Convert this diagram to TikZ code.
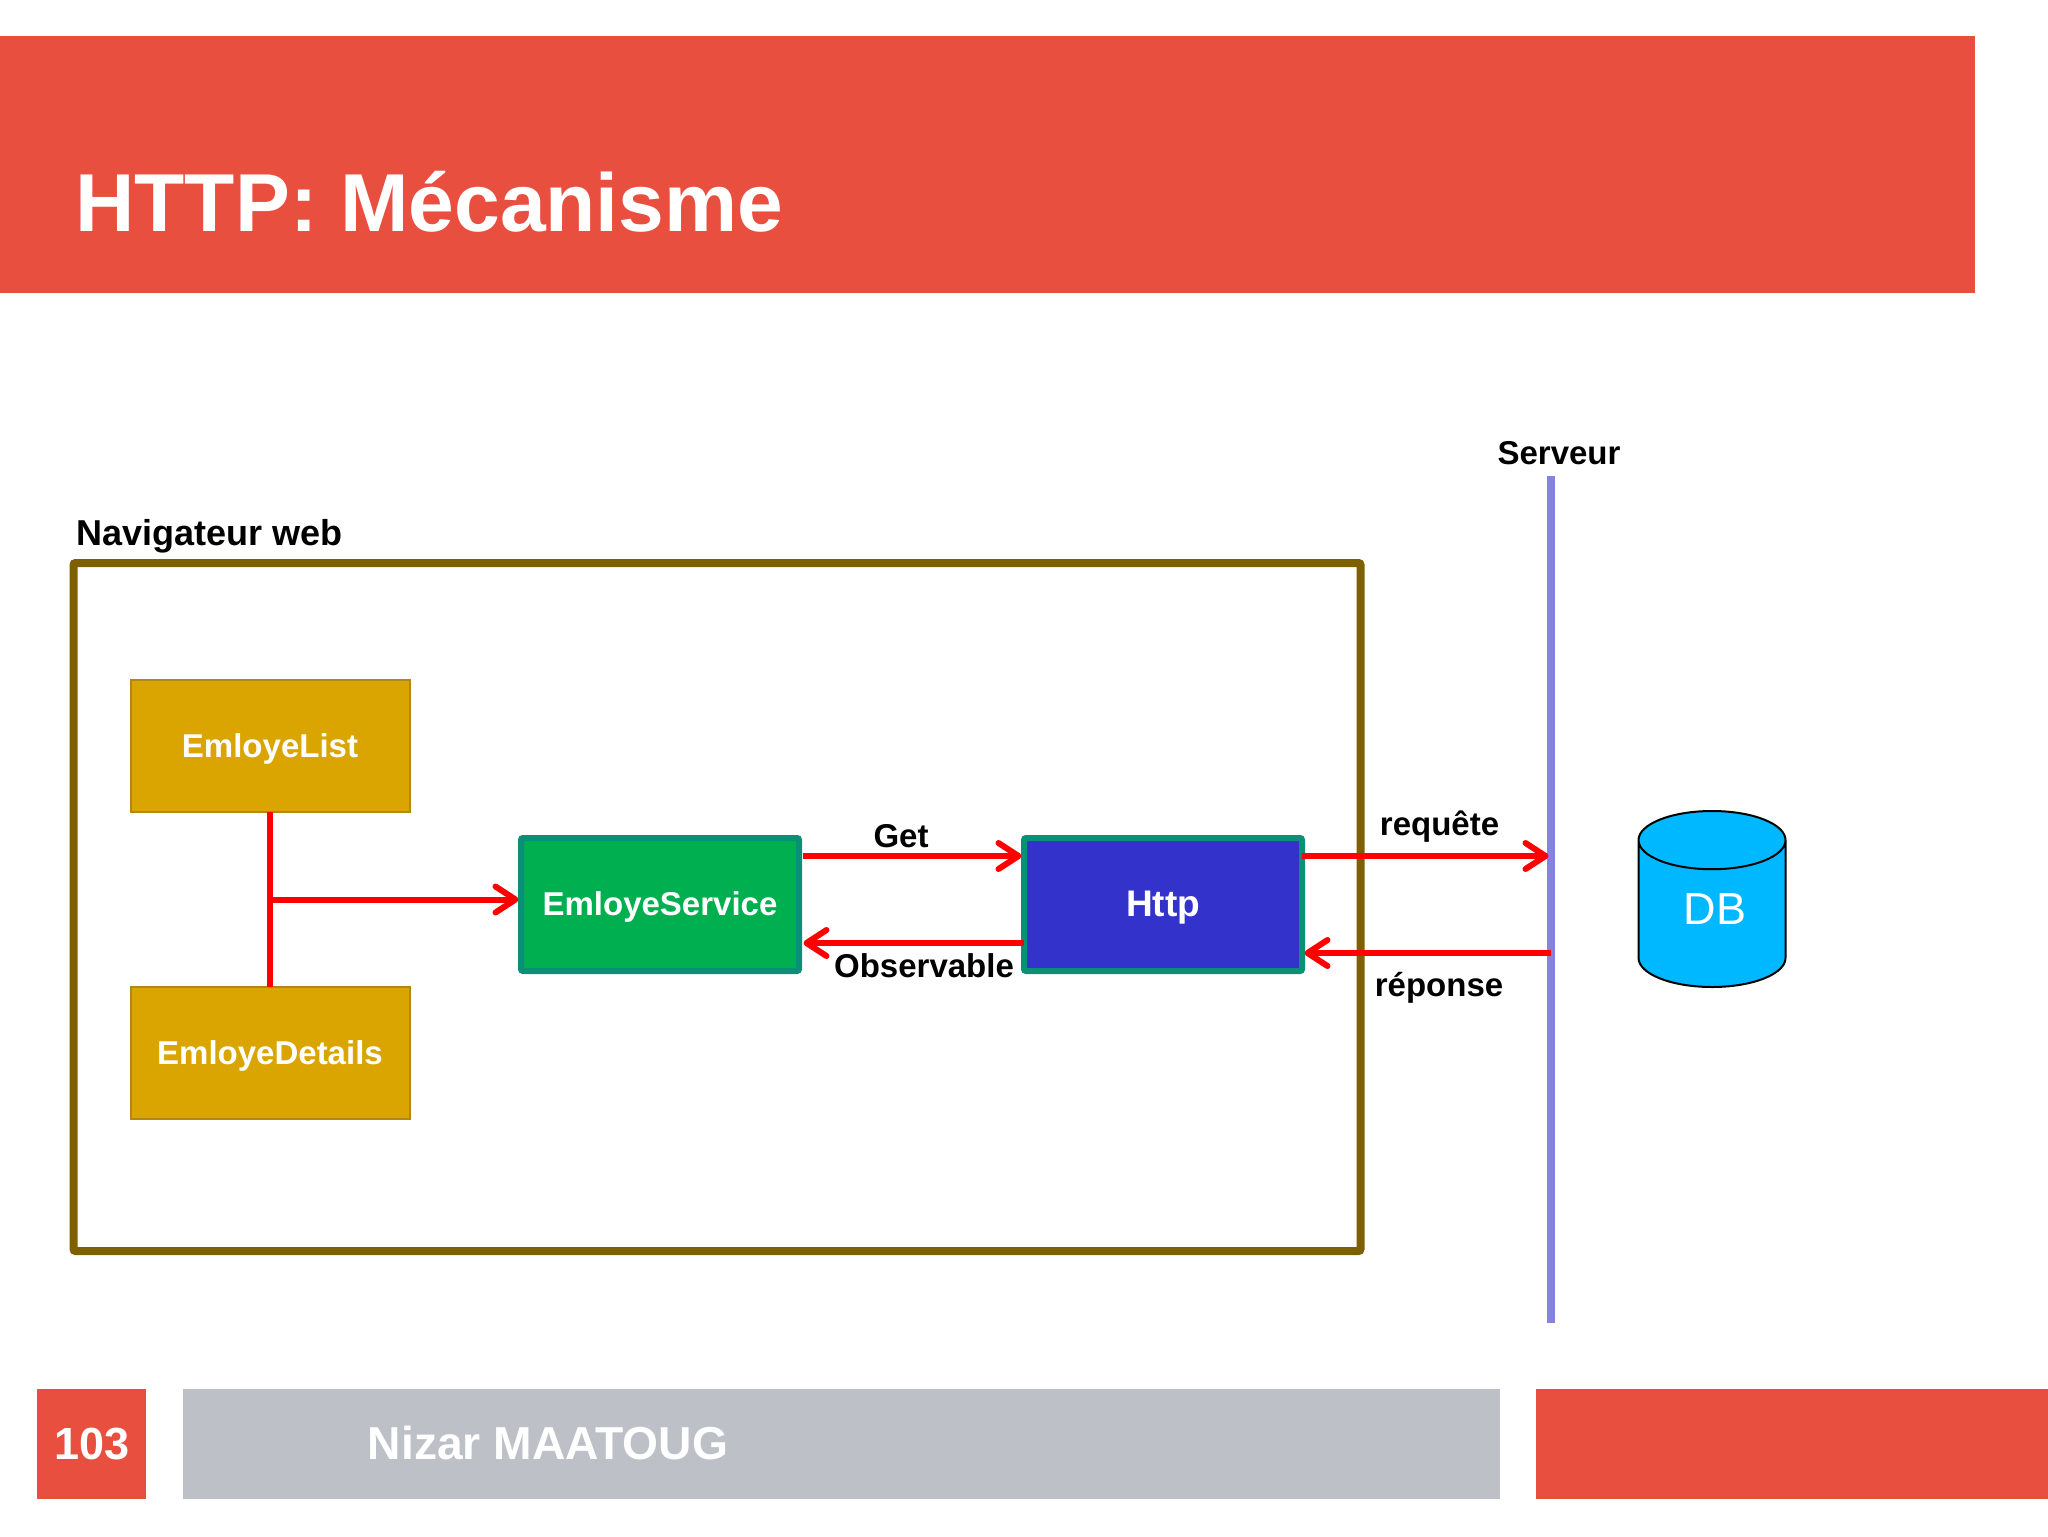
\documentclass[tikz,border=0pt]{standalone}
\usepackage{fontspec}
\setmainfont{Liberation Sans}
\usepackage{tikz}
\usetikzlibrary{arrows.meta,positioning,shapes.geometric}

\definecolor{slidered}{HTML}{E94F3F}
\definecolor{footgray}{HTML}{BDC0C7}
\definecolor{framebrown}{HTML}{7F6000}
\definecolor{boxgold}{HTML}{DAA500}
\definecolor{goldedge}{HTML}{B08A10}
\definecolor{boxgreen}{HTML}{00B050}
\definecolor{boxblue}{HTML}{3333CC}
\definecolor{boxteal}{HTML}{0B9078}
\definecolor{serverline}{HTML}{8484DC}
\definecolor{dbblue}{HTML}{00B8FF}

\tikzset{
  band/.style={rectangle,fill=#1,anchor=north west,inner sep=0pt,outer sep=0pt},
  compbox/.style={rectangle,minimum width=139.5pt,minimum height=66pt,inner sep=0pt,outer sep=0pt,
    text=white,font=\bfseries\fontsize{16.5}{20}\selectfont,text height=11.5pt,text depth=0pt},
  goldbox/.style={compbox,fill=boxgold,draw=goldedge,line width=1pt},
  servicebox/.style={compbox,fill=#1,draw=boxteal,line width=3pt,rounded corners=1pt,
    minimum width=139pt,minimum height=66.5pt},
  tag/.style={anchor=base,inner sep=0pt,font=\bfseries\fontsize{16.5}{20}\selectfont},
  foot/.style={anchor=base,inner sep=0pt,text=white,font=\bfseries\fontsize{22.5}{26}\selectfont},
  every edge/.append style={draw=red,line width=3pt}
}

\begin{document}
\begin{tikzpicture}[x=0.5pt,y=-0.5pt,shorten >=1.25pt,node distance=100pt,on grid,
  >={Straight Barb[length=10pt,width=13pt,round]}]
   \useasboundingbox (0,0) rectangle (2048,1536);

   % bands of the slide
   \node[band=slidered,minimum width=987.5pt,minimum height=128pt] (header) at (0,36.5) {};
   \node[band=slidered,minimum width=54.5pt,minimum height=55pt] (page_box) at (36.5,1389) {};
   \node[band=footgray,minimum width=658.5pt,minimum height=55pt] (author_box) at (183,1389) {};
   \node[band=slidered,minimum width=256pt,minimum height=55pt] (corner_box) at (1536,1389) {};
   \node[anchor=base west,inner sep=0pt,text=white,font=\bfseries\fontsize{41.1}{48}\selectfont] (title) at (75,231) {HTTP: Mécanisme};
   \node[foot] (page_no) at (92,1459) {103};
   \node[foot,font=\bfseries\fontsize{23.1}{26}\selectfont] (author) at (548,1459) {Nizar MAATOUG};

   % browser side
   \node[rectangle,draw=framebrown,line width=4pt,rounded corners=1pt,minimum width=643.5pt,minimum height=344pt] (browser) at (717,907) {};
   \node[tag,font=\bfseries\fontsize{18}{22}\selectfont,anchor=base west] (browser_label) at (76,545.5) {Navigateur web};
   \node[goldbox] (list) at (270,746) {EmloyeList};
   \node[goldbox] (details) [below=153.5pt of list] {EmloyeDetails};
   \node[servicebox=boxgreen,text height=10.5pt] (service) at (660,904.5) {EmloyeService};
   \node[servicebox=boxblue,font=\bfseries\fontsize{18.5}{22}\selectfont] (http) [right=251.5pt of service] {Http};

   % server side
   \node[rectangle,fill=serverline,minimum width=3.7pt,minimum height=423.5pt,inner sep=0pt,outer sep=0pt] (server) at (1551,899.5) {};
   \node[tag] (server_label) at (1559,464) {Serveur};
   \node[cylinder,shape border rotate=90,shape aspect=0.85,draw=black,line width=1pt,fill=dbblue,anchor=shape center,
     minimum width=73.5pt,minimum height=88pt,inner sep=0pt,text depth=5pt,text=white,font=\fontsize{22.5}{26}\selectfont] (db) at (1712,899) {\hspace{3pt}DB};

   \path[->]
    ([yshift=2.5pt]service.west -| list.south) edge ([yshift=2.5pt]service.west)
    ([xshift=1.75pt,yshift=24.25pt]service.east) edge ([yshift=24.25pt]http.west)
    ([yshift=-19.25pt]http.west) edge ([xshift=1pt,yshift=-19.25pt]service.east)
    ([yshift=24.25pt]http.east) edge ([yshift=24.25pt]http.east -| server.center)
    ([yshift=-24.25pt]http.east -| server.center) edge ([yshift=-24.25pt]http.east);
   \path[shorten >=0pt] (list.south) edge (details.north);

   \node[tag] (get_label) at (901,847) {Get};
   \node[tag] (observable_label) at (924,977) {Observable};
   \node[tag] (request_label) at (1439.5,835) {requête};
   \node[tag] (response_label) at (1439,996) {réponse};
\end{tikzpicture}
\end{document}
